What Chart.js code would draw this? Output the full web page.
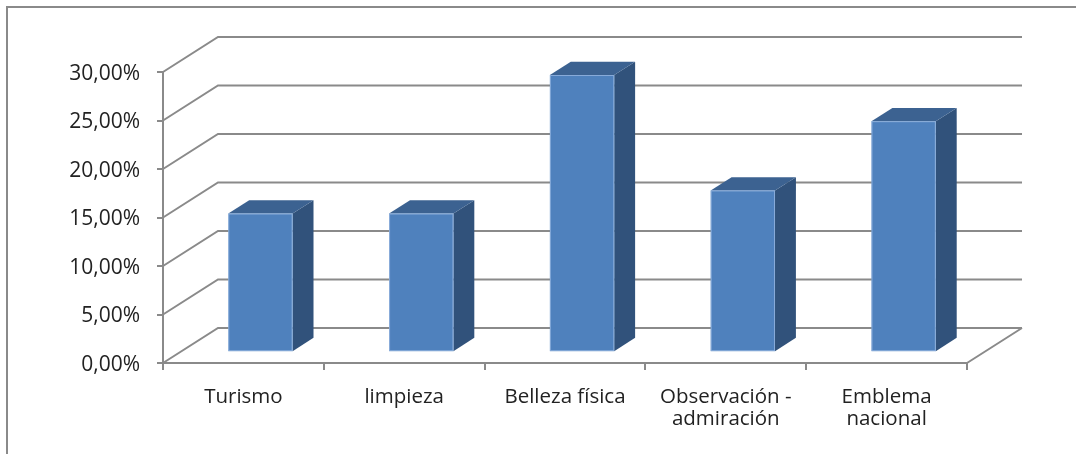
<!DOCTYPE html>
<html>
<head>
<meta charset="utf-8">
<script src="https://cdn.jsdelivr.net/npm/chart.js@4/dist/chart.umd.min.js"></script>
<style>
  html, body { margin: 0; padding: 0; background: #ffffff; }
  canvas { display: block; }
</style>
</head>
<body>
<canvas id="c" width="1076" height="454"></canvas>
<script>
// ---- data ----
const categories = ["Turismo", "limpieza", "Belleza física", ["Observación -", "admiración"], ["Emblema", "nacional"]];
const values = [0.1429, 0.1429, 0.2857, 0.1667, 0.2381];
const yMin = 0;
const yMax = 0.30;
const yStep = 0.05;

// ---- style ----
const GRID = '#8a8a8a';
const DEPTH_X = 55, DEPTH_Y = -35;      // full depth of the 3D box
const BAR_FRONT = 0.31, BAR_DEPTH = 0.38; // bar placement inside the depth
const FRONT = '#4F81BD', SIDE = '#31527B', TOP = '#3C6291';

function fmt(v) { return (v * 100).toFixed(2).replace('.', ',') + '%'; }

const threeD = {
  id: 'threeD',
  beforeDraw(chart) {
    const ctx = chart.ctx;
    ctx.save();
    ctx.fillStyle = '#ffffff';
    ctx.fillRect(0, 0, chart.width, chart.height);
    ctx.strokeStyle = GRID;
    ctx.lineWidth = 2;
    ctx.beginPath();
    ctx.moveTo(7, chart.height);
    ctx.lineTo(7, 7);
    ctx.lineTo(chart.width, 7);
    ctx.stroke();
    ctx.restore();
  },
  beforeDatasetsDraw(chart) {
    const ctx = chart.ctx;
    const ys = chart.scales.y;
    const L = chart.chartArea.left, R = chart.chartArea.right, B = chart.chartArea.bottom;
    ctx.save();
    ctx.strokeStyle = GRID;
    ctx.lineWidth = 2;
    ctx.beginPath();
    ys.ticks.forEach(t => {
      const y = ys.getPixelForValue(t.value);
      ctx.moveTo(L, y);
      ctx.lineTo(L + DEPTH_X, y + DEPTH_Y);
      ctx.lineTo(R + DEPTH_X, y + DEPTH_Y);
    });
    // right floor edge
    ctx.moveTo(R, B);
    ctx.lineTo(R + DEPTH_X, B + DEPTH_Y);
    ctx.stroke();
    ctx.restore();
  },
  afterDatasetsDraw(chart) {
    const ctx = chart.ctx;
    const meta = chart.getDatasetMeta(0);
    const fx = BAR_FRONT * DEPTH_X, fy = BAR_FRONT * DEPTH_Y;
    const dx = BAR_DEPTH * DEPTH_X, dy = BAR_DEPTH * DEPTH_Y;
    ctx.save();
    meta.data.forEach(el => {
      const p = el.getProps(['x', 'y', 'base', 'width'], true);
      const l = p.x - p.width / 2 + fx, r = p.x + p.width / 2 + fx;
      const t = Math.min(p.y, p.base) + fy, b = Math.max(p.y, p.base) + fy;
      // side
      ctx.fillStyle = SIDE;
      ctx.beginPath();
      ctx.moveTo(r, t); ctx.lineTo(r + dx, t + dy); ctx.lineTo(r + dx, b + dy); ctx.lineTo(r, b);
      ctx.closePath(); ctx.fill();
      // top
      ctx.fillStyle = TOP;
      ctx.beginPath();
      ctx.moveTo(l, t); ctx.lineTo(l + dx, t + dy); ctx.lineTo(r + dx, t + dy); ctx.lineTo(r, t);
      ctx.closePath(); ctx.fill();
      // front
      ctx.fillStyle = FRONT;
      ctx.fillRect(l, t, r - l, b - t);
      ctx.strokeStyle = 'rgba(160,190,230,0.7)';
      ctx.lineWidth = 1;
      ctx.strokeRect(l + 0.5, t + 0.5, r - l - 1, b - t - 1);
    });
    ctx.restore();
  }
};

new Chart(document.getElementById('c'), {
  type: 'bar',
  data: {
    labels: categories,
    datasets: [{
      data: values,
      backgroundColor: 'rgba(0,0,0,0)',
      borderWidth: 0,
      categoryPercentage: 1.0,
      barPercentage: 0.4
    }]
  },
  options: {
    responsive: false,
    animation: false,
    events: [],
    layout: { padding: { top: 72, right: 109, bottom: 0, left: 0 } },
    plugins: { legend: { display: false }, tooltip: { enabled: false } },
    scales: {
      x: {
        grid: { display: true, offset: true, drawOnChartArea: false, drawTicks: true, tickLength: 7, color: GRID, lineWidth: 2 },
        border: { display: true, color: GRID, width: 2 },
        ticks: { color: '#222222', font: { family: 'Open Sans', size: 20.5, lineHeight: 1.08 }, padding: 16, maxRotation: 0, autoSkip: false },
        afterFit(scale) { scale.height = 91; }
      },
      y: {
        min: yMin, max: yMax,
        grid: { display: true, drawOnChartArea: false, drawTicks: true, tickLength: 6, color: GRID, lineWidth: 2 },
        border: { display: true, color: GRID, width: 2 },
        ticks: { stepSize: yStep, color: '#222222', font: { family: 'Open Sans', size: 21 }, padding: 17, labelOffset: 2, callback: v => fmt(v) },
        afterFit(scale) { scale.width = 163; }
      }
    }
  },
  plugins: [threeD]
});
</script>
</body>
</html>
